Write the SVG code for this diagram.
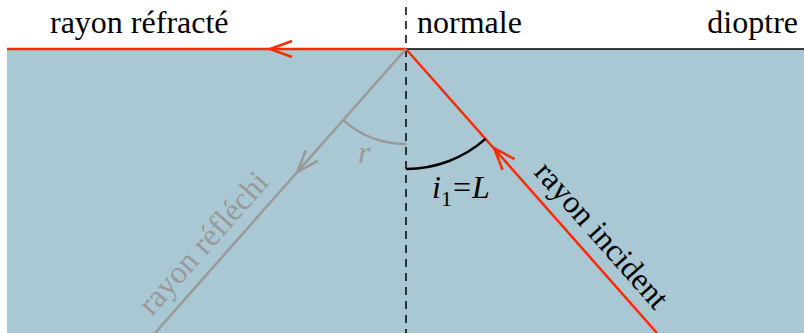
<svg xmlns="http://www.w3.org/2000/svg" width="804" height="333" viewBox="0 0 804 333">
<style>
.t{font-family:"Liberation Serif","Times New Roman",serif;font-size:32px;fill:#000}
.it{font-style:italic}
.red{stroke:#ff2a00;stroke-width:2.5;fill:none}
.gray{stroke:#999;stroke-width:2.5;fill:none}
.blk{stroke:#000;fill:none}
</style>
<g id="milieu">
<rect x="7" y="49" width="797" height="284" fill="#aac8d3"/>
<line x1="406" y1="49" x2="804" y2="49" class="blk" stroke-width="1.5"/>
<text class="t" x="798" y="33" text-anchor="end">dioptre</text>
</g>
<g id="normale">
<line x1="406" y1="7" x2="406" y2="333" class="blk" stroke-width="1.5" stroke-dasharray="8 6"/>
<text class="t" x="417" y="33">normale</text>
</g>
<g id="connectors">
<g id="refracte">
<line x1="406" y1="49" x2="7" y2="49" class="red"/>
<path d="M292,41 L270,49 L292,57" class="red"/>
</g>
<g id="incident">
<line x1="657" y1="333" x2="406" y2="49" class="red"/>
<path d="M514.6,159.2 L494,148 L502.6,169.8" class="red"/>
</g>
<g id="reflechi">
<line x1="406" y1="49" x2="155" y2="333" class="gray"/>
<path d="M317.9,160.8 L297.3,172 L305.9,150.2" class="gray"/>
</g>
</g>
<g id="angles">
<path d="M406,144 A95,95 0 0 1 343.1,120.1" class="gray"/>
<path d="M406,169 A120,120 0 0 0 485.5,138.9" class="blk" stroke-width="2.5"/>
<text class="t it" x="358" y="163" style="fill:#999">r</text>
<text class="t" x="432" y="198"><tspan class="it">i</tspan><tspan font-size="22" dy="8">1</tspan><tspan dy="-8" dx="1">=</tspan><tspan class="it" dx="1">L</tspan></text>
</g>
<g id="labels">
<text class="t" x="50" y="33">rayon réfracté</text>
<text class="t" x="594" y="242" text-anchor="middle" transform="rotate(48.5 594 242)">rayon incident</text>
<text class="t" x="211" y="250" text-anchor="middle" transform="rotate(-48.5 211 250)" style="fill:#999">rayon réfléchi</text>
</g>
</svg>
